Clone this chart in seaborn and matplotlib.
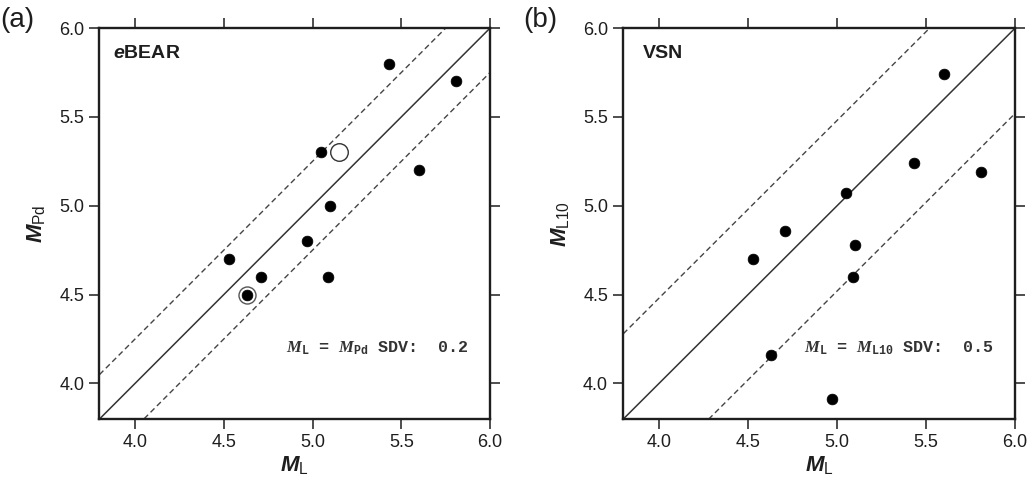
import numpy as np
import pandas as pd
import matplotlib
matplotlib.use("Agg")
import matplotlib.pyplot as plt
import seaborn as sns

# ---- data ----
a_ml = [5.43, 5.81, 5.05, 5.60, 5.10, 4.97, 4.53, 4.71, 4.63, 5.09]
a_mpd = [5.80, 5.70, 5.30, 5.20, 5.00, 4.80, 4.70, 4.60, 4.50, 4.60]
a_open_ml = [5.15]
a_open_mpd = [5.30]
a_ring_ml = [4.63]
a_ring_mpd = [4.50]

b_ml = [5.60, 5.43, 5.81, 5.05, 4.71, 5.10, 4.53, 5.09, 4.63, 4.97]
b_ml10 = [5.74, 5.24, 5.19, 5.07, 4.86, 4.78, 4.70, 4.60, 4.16, 3.91]

a_band = 0.25
b_band = 0.48
a_sdv = "0.2"
b_sdv = "0.5"
ticks = [4.0, 4.5, 5.0, 5.5, 6.0]
lim = (3.8, 6.0)

sns.set_style("ticks")
plt.rcParams["font.family"] = ["Liberation Sans", "DejaVu Sans"]
plt.rcParams["mathtext.fontset"] = "custom"
plt.rcParams["mathtext.it"] = "Liberation Sans:italic:bold"
plt.rcParams["mathtext.rm"] = "Liberation Sans"
plt.rcParams["mathtext.bf"] = "Liberation Serif:bold:italic"
plt.rcParams["mathtext.sf"] = "Liberation Mono:bold"

INK = "#1e1e1e"

fig = plt.figure(figsize=(10.31, 4.82), dpi=100)
ax_a = fig.add_axes([0.0965, 0.1307, 0.3788, 0.811])
ax_b = fig.add_axes([0.6046, 0.1307, 0.3800, 0.811])


def style_axes(ax, ylabel, tag, name, name_x, ann):
    ax.set_xlim(*lim)
    ax.set_ylim(*lim)
    ax.set_xticks(ticks)
    ax.set_yticks(ticks)
    ax.set_xticklabels([f"{t:.1f}" for t in ticks])
    ax.set_yticklabels([f"{t:.1f}" for t in ticks])
    ax.tick_params(axis="both", which="both", direction="out", length=7, width=1.1,
                   labelsize=13, top=True, right=True, labeltop=False, labelright=False,
                   color=INK, labelcolor=INK, pad=4)
    for s in ax.spines.values():
        s.set_visible(True)
        s.set_linewidth(1.7)
        s.set_color(INK)
    ax.set_xlabel(r"$M_{\mathrm{L}}$", fontsize=16, labelpad=2, color=INK)
    ax.set_ylabel(ylabel, fontsize=16, labelpad=8, color=INK)
    ax.text(-0.255, 1.02, tag, transform=ax.transAxes, fontsize=20,
            va="center", ha="left", color=INK)
    ax.text(name_x, 0.935, name, transform=ax.transAxes, fontsize=14,
            fontweight="bold", va="center", ha="left", color=INK)
    ax.text(5.88, 4.2, ann, fontsize=12, family="Liberation Mono",
            fontweight="bold", ha="right", va="center", color="#333333")


def draw_lines(ax, band):
    xs = np.linspace(lim[0], lim[1], 50)
    sns.lineplot(x=xs, y=xs, ax=ax, color="#333333", linewidth=1.1)
    sns.lineplot(x=xs, y=xs + band, ax=ax, color="#444444", linewidth=1.0,
                 linestyle=(0, (4, 2.5)))
    sns.lineplot(x=xs, y=xs - band, ax=ax, color="#444444", linewidth=1.0,
                 linestyle=(0, (4, 2.5)))


# panel a
draw_lines(ax_a, a_band)
sns.scatterplot(x=a_ring_ml, y=a_ring_mpd, ax=ax_a, s=150, facecolor="white",
                edgecolor="#555555", linewidth=1.0, zorder=3)
sns.scatterplot(x=a_ml, y=a_mpd, ax=ax_a, s=60, color="black", edgecolor="black",
                linewidth=0.5, zorder=4)
sns.scatterplot(x=a_open_ml, y=a_open_mpd, ax=ax_a, s=160, facecolor="white",
                edgecolor="#333333", linewidth=1.0, zorder=4)
style_axes(ax_a, r"$M_{\mathrm{Pd}}$", "(a)", r"$e$BEAR", 0.035,
           r"$\mathbf{M}_{\mathsf{L}}$ = $\mathbf{M}_{\mathsf{Pd}}$ SDV:  " + a_sdv)

# panel b
draw_lines(ax_b, b_band)
sns.scatterplot(x=b_ml, y=b_ml10, ax=ax_b, s=60, color="black", edgecolor="black",
                linewidth=0.5, zorder=4)
style_axes(ax_b, r"$M_{\mathrm{L10}}$", "(b)", "VSN", 0.05,
           r"$\mathbf{M}_{\mathsf{L}}$ = $\mathbf{M}_{\mathsf{L10}}$ SDV:  " + b_sdv)

fig.savefig("out.png", dpi=100, facecolor="white")
